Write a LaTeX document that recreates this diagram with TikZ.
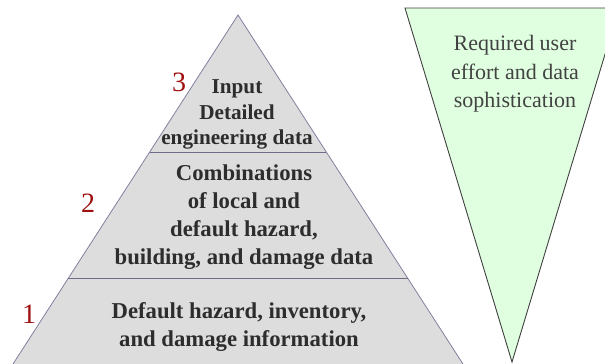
\documentclass[tikz,border=0pt]{standalone}
\usepackage{fontspec}
\setmainfont{Liberation Serif}
\usetikzlibrary{calc}

\definecolor{layerfill}{RGB}{221,221,221}
\definecolor{layeredge}{RGB}{128,128,160}
\definecolor{effortfill}{RGB}{224,255,224}
\definecolor{levelred}{RGB}{160,16,16}
\definecolor{textgray}{RGB}{45,45,45}

\begin{document}
\begin{tikzpicture}[
        x=1pt, y=-1pt,
        % Pyramid outline
        pyramid/.style={
            draw=layeredge,
            line width=0.8pt
        },
        % Lines between the layers
        divider/.style={
            draw=layeredge!85!black,
            line width=1pt
        },
        % Inverted triangle on the right
        effort/.style={
            fill=effortfill,
            draw=black!75,
            line width=0.9pt
        },
        % Bold text inside the layers
        layer text/.style={
            text=textgray,
            align=center,
            font=\fontsize{22.7}{28}\selectfont\bfseries,
            inner sep=0pt
        },
        % Level numbers
        level num/.style={
            text=levelred,
            font=\fontsize{28}{30}\selectfont,
            inner sep=0pt
        }
    ]

    \useasboundingbox (0,0) rectangle (605,364);
    \clip (0,0) rectangle (605,364);

    % Corners of the pyramid
    \coordinate (apex) at (238,15);
    \coordinate (bl) at (13,364);
    \coordinate (br) at (463,364);

    % Ends of the two dividers
    \coordinate (d2l) at ($(apex)!0.3926!(bl)$);
    \coordinate (d2r) at ($(apex)!0.3926!(br)$);
    \coordinate (d1l) at ($(apex)!0.7536!(bl)$);
    \coordinate (d1r) at ($(apex)!0.7536!(br)$);

    \fill[layerfill] (bl) -- (apex) -- (br) -- cycle;
    \draw[pyramid] (bl) -- (apex) -- (br);
    \draw[divider] (d2l) -- (d2r);
    \draw[divider] (d1l) -- (d1r);

    % Inverted triangle
    \draw[effort] (405,8) -- (619,8) -- (512,362) -- cycle;

    % Layer texts
    \node[layer text, font=\fontsize{21.2}{25.5}\selectfont\bfseries] (top) at (237,114.5)
        {Input\\Detailed\\engineering data};
    \node[layer text] (mid) at (244,217)
        {Combinations\\of local and\\default hazard,\\building, and damage data};
    \node[layer text] (base) at (239,327.5)
        {Default hazard, inventory,\\and damage information};

    % Level numbers
    \node[level num] (n3) at (179,82) {3};
    \node[level num] (n2) at (88,203) {2};
    \node[level num] (n1) at (29,314) {1};

    % Text in the inverted triangle
    \node[text=textgray!90!white, align=center, inner sep=0pt,
          font=\fontsize{22}{28.5}\selectfont] (effort) at (515,74)
        {Required user\\effort and data\\sophistication};

\end{tikzpicture}
\end{document}
